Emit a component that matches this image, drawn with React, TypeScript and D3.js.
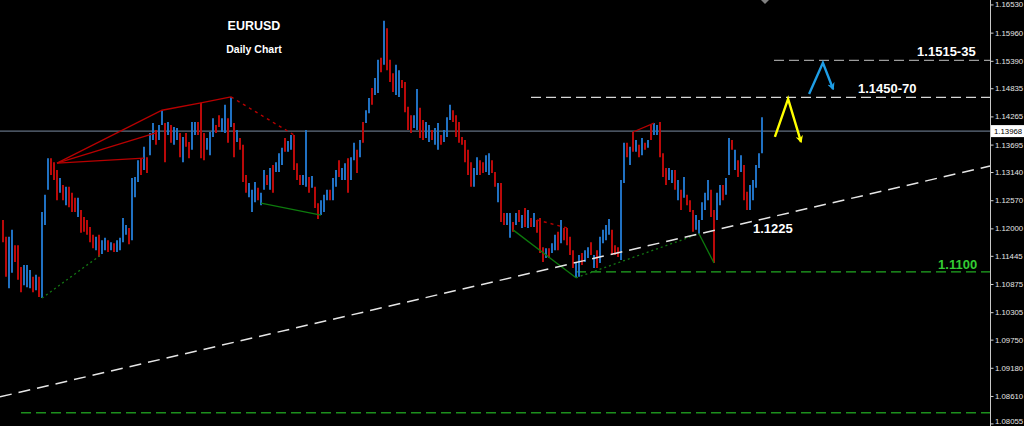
import React, { useEffect, useRef } from "react";
import * as d3 from "d3";

const W = 1024;
const H = 426;

// Daily EURUSD bars (oldest first): high, low and candle direction (u = up, d = down)
const highs = [
  1.1217, 1.1183, 1.1183, 1.1197, 1.1166, 1.1166, 1.1122, 1.1126, 1.1126, 1.1116,
  1.1102, 1.1106, 1.1102, 1.1233, 1.1268, 1.1342, 1.1342, 1.1334, 1.1318, 1.1302,
  1.1288, 1.1284, 1.1284, 1.1272, 1.1262, 1.1262, 1.1237, 1.1223, 1.1217, 1.1203,
  1.1187, 1.1183, 1.1187, 1.1176, 1.1181, 1.1176, 1.1172, 1.117, 1.1176, 1.1181,
  1.1221, 1.1207, 1.1201, 1.1302, 1.1304, 1.1338, 1.1342, 1.1365, 1.1344, 1.1393,
  1.1413, 1.1399, 1.1409, 1.1439, 1.1413, 1.1415, 1.1409, 1.1405, 1.1403, 1.1393,
  1.1385, 1.1393, 1.1375, 1.1415, 1.1415, 1.1415, 1.1454, 1.1393, 1.1383, 1.1395,
  1.1423, 1.1409, 1.1429, 1.1423, 1.145, 1.1423, 1.1466, 1.1413, 1.1399, 1.1383,
  1.1369, 1.1308, 1.1292, 1.1278, 1.1294, 1.1282, 1.1272, 1.1318, 1.1308, 1.1322,
  1.1328, 1.1334, 1.1352, 1.1363, 1.1383, 1.1377, 1.1389, 1.1389, 1.1332, 1.1308,
  1.1308, 1.1399, 1.1304, 1.1306, 1.1284, 1.1251, 1.1257, 1.1268, 1.1278, 1.1278,
  1.1302, 1.1318, 1.1338, 1.1322, 1.1332, 1.1342, 1.1344, 1.1373, 1.1359, 1.1379,
  1.1415, 1.1439, 1.1464, 1.1484, 1.1504, 1.1541, 1.1545, 1.162, 1.1605, 1.1541,
  1.1514, 1.1531, 1.152, 1.15, 1.1496, 1.1446, 1.1429, 1.1429, 1.1482, 1.1444,
  1.1419, 1.1415, 1.1409, 1.1399, 1.1403, 1.1413, 1.1389, 1.1399, 1.1425, 1.145,
  1.1439, 1.1429, 1.1415, 1.1385, 1.1379, 1.1359, 1.1334, 1.1322, 1.1344, 1.1338,
  1.1334, 1.1348, 1.1352, 1.1338, 1.1314, 1.1292, 1.1292, 1.1231, 1.1231, 1.1231,
  1.1213, 1.1231, 1.1237, 1.1227, 1.1241, 1.1237, 1.1221, 1.1231, 1.1217, 1.1221,
  1.1162, 1.116, 1.116, 1.117, 1.1187, 1.1193, 1.1217, 1.1201, 1.1201, 1.1183,
  1.1156, 1.1132, 1.1146, 1.115, 1.1156, 1.1162, 1.1172, 1.1146, 1.1156, 1.1183,
  1.1197, 1.1207, 1.1219, 1.1197, 1.1166, 1.1162, 1.1298, 1.1373, 1.1373, 1.1365,
  1.1395, 1.1379, 1.1369, 1.1383, 1.1373, 1.1379, 1.1409, 1.1413, 1.1409, 1.1415,
  1.1352, 1.1322, 1.1322, 1.1318, 1.1318, 1.1298, 1.1278, 1.1304, 1.1268, 1.1257,
  1.1237, 1.1227, 1.1217, 1.1253, 1.1272, 1.1298, 1.1278, 1.1237, 1.1272, 1.1288,
  1.1288, 1.1302, 1.1383, 1.1379, 1.1359, 1.1338, 1.1348, 1.1328, 1.1274, 1.1288,
  1.1298, 1.1328, 1.1352, 1.1425,
];

const lows = [
  1.1172, 1.1102, 1.1079, 1.111, 1.1132, 1.1096, 1.1071, 1.1085, 1.1081, 1.1079,
  1.1071, 1.1075, 1.1061, 1.1059, 1.1207, 1.1278, 1.1308, 1.1298, 1.1257, 1.1272,
  1.1257, 1.1247, 1.1243, 1.1233, 1.1233, 1.1223, 1.1191, 1.1193, 1.1187, 1.1172,
  1.116, 1.1156, 1.1142, 1.1148, 1.1156, 1.1152, 1.1156, 1.1152, 1.1152, 1.1156,
  1.1172, 1.1187, 1.1168, 1.1176, 1.1263, 1.1294, 1.1308, 1.1318, 1.1312, 1.1348,
  1.1379, 1.1369, 1.1379, 1.1409, 1.1334, 1.1389, 1.1373, 1.1369, 1.1379, 1.1344,
  1.1334, 1.1365, 1.1342, 1.1359, 1.1389, 1.1389, 1.1342, 1.1338, 1.1359, 1.1348,
  1.1385, 1.1393, 1.1405, 1.1395, 1.1393, 1.1373, 1.1405, 1.1344, 1.1375, 1.1359,
  1.1294, 1.1272, 1.1263, 1.1233, 1.1253, 1.1257, 1.1247, 1.1278, 1.1288, 1.1278,
  1.1272, 1.1314, 1.1314, 1.1328, 1.1355, 1.1355, 1.1359, 1.1318, 1.1298, 1.1288,
  1.1288, 1.1284, 1.1272, 1.1282, 1.1241, 1.1219, 1.1227, 1.1233, 1.1257, 1.1257,
  1.1257, 1.1284, 1.1304, 1.1298, 1.1298, 1.1272, 1.1298, 1.1338, 1.1312, 1.1344,
  1.1373, 1.1413, 1.1433, 1.145, 1.147, 1.1474, 1.1516, 1.1531, 1.152, 1.1496,
  1.1476, 1.147, 1.1466, 1.1484, 1.1435, 1.1399, 1.1393, 1.1403, 1.1399, 1.1383,
  1.1379, 1.1383, 1.1375, 1.1379, 1.1369, 1.1359, 1.1369, 1.1375, 1.1385, 1.1419,
  1.1415, 1.1385, 1.1373, 1.1369, 1.1334, 1.1308, 1.1284, 1.1284, 1.1308, 1.1308,
  1.1312, 1.1314, 1.1308, 1.1312, 1.1284, 1.1253, 1.1213, 1.1207, 1.1207, 1.1181,
  1.1193, 1.1207, 1.1213, 1.1201, 1.1203, 1.1201, 1.1203, 1.1203, 1.1191, 1.115,
  1.1132, 1.114, 1.114, 1.115, 1.1156, 1.1156, 1.117, 1.1176, 1.1166, 1.1146,
  1.112, 1.11, 1.1102, 1.1126, 1.1132, 1.114, 1.1146, 1.112, 1.112, 1.113,
  1.117, 1.1176, 1.1187, 1.1146, 1.1146, 1.1142, 1.1136, 1.1292, 1.1344, 1.1328,
  1.1355, 1.1355, 1.1344, 1.1348, 1.1359, 1.1363, 1.1379, 1.1389, 1.1389, 1.1344,
  1.1304, 1.1288, 1.1298, 1.1292, 1.1278, 1.1257, 1.1237, 1.1262, 1.1247, 1.1233,
  1.1193, 1.1197, 1.1189, 1.1217, 1.1237, 1.1257, 1.1223, 1.113, 1.1217, 1.1247,
  1.1257, 1.1268, 1.1308, 1.1359, 1.1318, 1.1304, 1.1314, 1.1257, 1.1237, 1.1237,
  1.1257, 1.1282, 1.1322, 1.1352,
];

const directions = [
  "dduuddduuu", "duduuudddu", "dudddudddd", "duduududuu", "uuduuududu",
  "uduududuud", "udduuddduu", "udduududud", "dduuuduudu", "duuuduuddd",
  "uududduuud", "uuduuduudu", "duuduududd", "duudddduud", "duuduuduuu",
  "ddddddduud", "duuddudduu", "dududududd", "duduududdd", "duuduududu",
  "uuuddduudu", "dudududuud", "dduudududd", "duuuuudduu", "duudududdu",
  "uuuu",
].join("");

const priceTicks = [
  1.1653, 1.1596, 1.1539, 1.14835, 1.14265, 1.13695, 1.1314, 1.1257,
  1.12, 1.11445, 1.10875, 1.10305, 1.0975, 1.0918, 1.0861, 1.08055,
];

const lastPrice = 1.13968;

// Swing annotations as [bar index, price]
const redSolid: [number, number][][] = [
  [[18, 1.1332], [53, 1.1439], [66, 1.1454], [76, 1.1466]],
  [[18, 1.1332], [51, 1.1393]],
  [[18, 1.1332], [47, 1.1342]],
  [[210, 1.1395], [217, 1.1413]],
];
const redDotted: [number, number][][] = [
  [[76, 1.1466], [97, 1.1389]],
  [[178, 1.1217], [188, 1.1201]],
];
const greenSolid: [number, number][][] = [
  [[86, 1.1251], [106, 1.1227]],
  [[170, 1.1197], [191, 1.11]],
  [[232, 1.1189], [237, 1.113]],
];
const greenDotted: [number, number][][] = [
  [[13, 1.1059], [33, 1.1148]],
  [[191, 1.11], [232, 1.1189]],
];

// Rising support trendline through two lows
const trendAnchors: [number, number][] = [[13, 1.0879], [237, 1.1196]];

// Horizontal levels: price, first bar index, colour
const levelPrices = [1.154, 1.1465, 1.1112, 1.0827];
const levelStarts = [257, 176, 191, 6];
const levelColors = ["#9c9c9c", "#d6d6d6", "#22a822", "#1d8f1d"];

// Projected paths
const yellowPath: [number, number][] = [[257.3, 1.1385], [261.7, 1.1462], [266, 1.1375]];
const bluePath: [number, number][] = [[268.7, 1.1472], [273.3, 1.1535], [276.7, 1.1482]];

// Text annotations: text, bar index, price (baseline), colour
const annotations: [string, number, number, string][] = [
  ["1.1515-35", 304.7, 1.1549, "#ffffff"],
  ["1.1450-70", 285, 1.1473, "#ffffff"],
  ["1.1225", 250, 1.119, "#ffffff"],
  ["1.1100", 311.7, 1.1118, "#33cc33"],
];

const FONT = "'Liberation Sans', Arial, sans-serif";

export default function App() {
  const axisRef = useRef<SVGGElement>(null);

  const x = d3.scaleLinear().domain([0, 329]).range([3, 990]);
  const y = d3.scaleLinear().domain([1.08055, 1.1653]).range([423.4, 4.45]);

  useEffect(() => {
    if (!axisRef.current) return;
    const g = d3.select(axisRef.current);
    g.call(
      d3
        .axisRight(y)
        .tickValues(priceTicks)
        .tickFormat(d3.format(".5f"))
        .tickSize(3)
        .tickSizeOuter(0)
        .tickPadding(1.5)
    );
    g.select(".domain").remove();
    g.selectAll(".tick line").attr("stroke", "#d0d0d0");
    g.selectAll(".tick text")
      .attr("fill", "#e4e4e4")
      .attr("font-size", 7.8)
      .attr("font-family", FONT);
    // keep the lowest label inside the frame
    g.selectAll<SVGGElement, number>(".tick")
      .filter((d) => d === 1.08055)
      .select("text")
      .attr("dy", "0.05em");
  }, []);

  const line = d3
    .line<[number, number]>()
    .x((d) => x(d[0]))
    .y((d) => y(d[1]));

  const slope = (trendAnchors[1][1] - trendAnchors[0][1]) / (trendAnchors[1][0] - trendAnchors[0][0]);
  const trendAt = (i: number) => trendAnchors[0][1] + (i - trendAnchors[0][0]) * slope;
  const trendPts: [number, number][] = [[-1, trendAt(-1)], [329, trendAt(329)]];

  const lastY = y(lastPrice);

  return (
    <svg
      width={W}
      height={H}
      style={{ position: "absolute", left: 0, top: 0, background: "#000" }}
    >
      <defs>
        <marker id="headY" viewBox="0 0 10 10" refX="8" refY="5" markerWidth="3.2" markerHeight="3.2" orient="auto">
          <path d="M0,0 L10,5 L0,10 L3,5 Z" fill="#ffff00" />
        </marker>
        <marker id="headB" viewBox="0 0 10 10" refX="8" refY="5" markerWidth="3.2" markerHeight="3.2" orient="auto">
          <path d="M0,0 L10,5 L0,10 L3,5 Z" fill="#1e9ee6" />
        </marker>
      </defs>
      <rect width={W} height={H} fill="#000" />

      {/* horizontal levels */}
      {levelPrices.map((p, k) => (
        <line
          key={"lv" + k}
          x1={x(levelStarts[k])}
          x2={990}
          y1={y(p)}
          y2={y(p)}
          stroke={levelColors[k]}
          strokeWidth={1.3}
          strokeDasharray="10 5"
        />
      ))}

      {/* last price line */}
      <line x1={0} x2={990} y1={lastY} y2={lastY} stroke="#7a8aa0" strokeWidth={1} />

      {/* candles */}
      {highs.map((h, i) => {
        const y1 = y(h);
        const y2 = Math.max(y(lows[i]), y1 + 2);
        return (
          <line
            key={i}
            x1={x(i)}
            x2={x(i)}
            y1={y1}
            y2={y2}
            stroke={directions[i] === "u" ? "#2277cc" : "#c40a0a"}
            strokeWidth={1.9}
          />
        );
      })}

      {/* swing lines */}
      {redSolid.map((pts, k) => (
        <path key={"rs" + k} d={line(pts) || ""} fill="none" stroke="#b80000" strokeWidth={1.3} />
      ))}
      {redDotted.map((pts, k) => (
        <path key={"rd" + k} d={line(pts) || ""} fill="none" stroke="#b80000" strokeWidth={1.4} strokeDasharray="3 4" />
      ))}
      {greenSolid.map((pts, k) => (
        <path key={"gs" + k} d={line(pts) || ""} fill="none" stroke="#0d7a0d" strokeWidth={1.3} />
      ))}
      {greenDotted.map((pts, k) => (
        <path key={"gd" + k} d={line(pts) || ""} fill="none" stroke="#137813" strokeWidth={1.3} strokeDasharray="2 3" />
      ))}

      {/* trendline */}
      <path d={line(trendPts) || ""} fill="none" stroke="#e6e6e6" strokeWidth={1.5} strokeDasharray="12 7" />

      {/* projected paths */}
      <path d={line(yellowPath) || ""} fill="none" stroke="#ffff00" strokeWidth={2.4} markerEnd="url(#headY)" />
      <path d={line(bluePath) || ""} fill="none" stroke="#1e9ee6" strokeWidth={2.4} markerEnd="url(#headB)" />

      {/* titles */}
      <text x={254} y={30} textAnchor="middle" fill="#fff" fontFamily={FONT} fontWeight="bold" fontSize={12.5}>
        EURUSD
      </text>
      <text x={254} y={53} textAnchor="middle" fill="#fff" fontFamily={FONT} fontWeight="bold" fontSize={10.5}>
        Daily Chart
      </text>

      {annotations.map(([t, i, p, c]) => (
        <text key={t} x={x(i)} y={y(p)} fill={c} fontFamily={FONT} fontWeight="bold" fontSize={13}>
          {t}
        </text>
      ))}

      {/* shift marker */}
      <path d="M761,0 L769,0 L765,4 Z" fill="#808080" />

      {/* price axis */}
      <line x1={990.5} x2={990.5} y1={0} y2={H} stroke="#c8c8c8" strokeWidth={1} />
      <g ref={axisRef} transform="translate(990.5,0)" />
      <rect x={991} y={lastY - 6} width={33} height={12} fill="#fff" />
      <text x={994} y={lastY + 3} fill="#000" fontFamily={FONT} fontSize={7.8}>
        {lastPrice.toFixed(5)}
      </text>
    </svg>
  );
}
